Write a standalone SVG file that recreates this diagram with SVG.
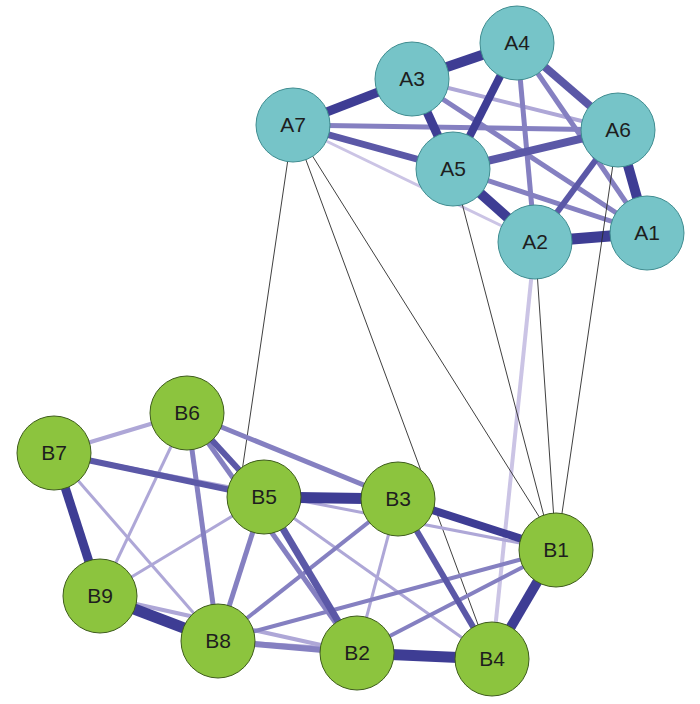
<svg xmlns="http://www.w3.org/2000/svg" width="700" height="704" viewBox="0 0 700 704">
<style>
.e{fill:none;stroke-linecap:butt}
.d{stroke:#3e3d94}
.m{stroke:#5b58a7}
.ml{stroke:#8580c1}
.l{stroke:#aea7d7}
.vl{stroke:#cbc4e5}
.t{stroke:#2a2a2a;stroke-width:0.9;fill:none}
.na circle{fill:#76c4c8;stroke:#3f8c90;stroke-width:1}
.nb circle{fill:#8cc43e;stroke:#3e5c1c;stroke-width:1}
text{font-family:"Liberation Sans",Arial,sans-serif;font-size:21px;fill:#1e1e1e;text-anchor:middle}
</style>
<rect width="700" height="704" fill="#ffffff"/>
<g id="connectors">
<line class="e vl" stroke-width="3" x1="293" y1="125" x2="535" y2="242"/>
<line class="e l" stroke-width="4" x1="412" y1="79" x2="618" y2="130"/>
<line class="e ml" stroke-width="5" x1="293" y1="125" x2="618" y2="130"/>
<line class="e ml" stroke-width="5" x1="412" y1="79" x2="647" y2="233"/>
<line class="e ml" stroke-width="5" x1="517" y1="43" x2="535" y2="242"/>
<line class="e ml" stroke-width="5" x1="517" y1="43" x2="647" y2="233"/>
<line class="e ml" stroke-width="5" x1="453" y1="169" x2="647" y2="233"/>
<line class="e m" stroke-width="6" x1="618" y1="130" x2="535" y2="242"/>
<line class="e m" stroke-width="7" x1="293" y1="125" x2="453" y2="169"/>
<line class="e m" stroke-width="8" x1="517" y1="43" x2="618" y2="130"/>
<line class="e m" stroke-width="8" x1="453" y1="169" x2="618" y2="130"/>
<line class="e d" stroke-width="8" x1="517" y1="43" x2="453" y2="169"/>
<line class="e d" stroke-width="9" x1="293" y1="125" x2="412" y2="79"/>
<line class="e d" stroke-width="10" x1="412" y1="79" x2="517" y2="43"/>
<line class="e d" stroke-width="9" x1="412" y1="79" x2="453" y2="169"/>
<line class="e d" stroke-width="10" x1="453" y1="169" x2="535" y2="242"/>
<line class="e d" stroke-width="10" x1="618" y1="130" x2="647" y2="233"/>
<line class="e d" stroke-width="11" x1="535" y1="242" x2="647" y2="233"/>
<line class="e vl" stroke-width="4" x1="535" y1="242" x2="495" y2="630"/>
<line class="t" x1="293" y1="125" x2="240" y2="485"/>
<line class="t" x1="293" y1="125" x2="480" y2="630"/>
<line class="t" x1="293" y1="125" x2="545" y2="526"/>
<line class="t" x1="453" y1="169" x2="545" y2="520"/>
<line class="t" x1="535" y1="242" x2="554" y2="520"/>
<line class="t" x1="618" y1="130" x2="561" y2="520"/>
<line class="e l" stroke-width="3" x1="54" y1="453" x2="556" y2="550"/>
<line class="e l" stroke-width="3" x1="54" y1="453" x2="218" y2="641"/>
<line class="e l" stroke-width="3" x1="187" y1="413" x2="100" y2="596"/>
<line class="e l" stroke-width="3" x1="264" y1="497" x2="100" y2="596"/>
<line class="e l" stroke-width="3" x1="264" y1="497" x2="492" y2="659"/>
<line class="e l" stroke-width="3" x1="398" y1="499" x2="357" y2="653"/>
<line class="e l" stroke-width="4" x1="54" y1="453" x2="187" y2="413"/>
<line class="e l" stroke-width="4" x1="100" y1="596" x2="357" y2="653"/>
<line class="e l" stroke-width="4" x1="218" y1="641" x2="492" y2="659"/>
<line class="e ml" stroke-width="4" x1="218" y1="641" x2="398" y2="499"/>
<line class="e ml" stroke-width="4" x1="218" y1="641" x2="556" y2="550"/>
<line class="e ml" stroke-width="4" x1="357" y1="653" x2="556" y2="550"/>
<line class="e ml" stroke-width="5" x1="264" y1="497" x2="218" y2="641"/>
<line class="e ml" stroke-width="6" x1="218" y1="641" x2="357" y2="653"/>
<line class="e ml" stroke-width="5" x1="187" y1="413" x2="218" y2="641"/>
<line class="e ml" stroke-width="5" x1="187" y1="413" x2="398" y2="499"/>
<line class="e ml" stroke-width="5" x1="187" y1="413" x2="357" y2="653"/>
<line class="e m" stroke-width="6" x1="187" y1="413" x2="264" y2="497"/>
<line class="e m" stroke-width="6" x1="54" y1="453" x2="264" y2="497"/>
<line class="e m" stroke-width="6" x1="398" y1="499" x2="492" y2="659"/>
<line class="e m" stroke-width="7" x1="264" y1="497" x2="357" y2="653"/>
<line class="e d" stroke-width="8" x1="398" y1="499" x2="556" y2="550"/>
<line class="e d" stroke-width="9" x1="54" y1="453" x2="100" y2="596"/>
<line class="e d" stroke-width="11" x1="264" y1="497" x2="398" y2="499"/>
<line class="e d" stroke-width="11" x1="100" y1="596" x2="218" y2="641"/>
<line class="e d" stroke-width="11" x1="357" y1="653" x2="492" y2="659"/>
<line class="e d" stroke-width="10" x1="492" y1="659" x2="556" y2="550"/>
</g>
<g id="A1" class="na"><circle cx="647" cy="233" r="37"/><text x="647" y="240">A1</text></g>
<g id="A2" class="na"><circle cx="535" cy="242" r="37"/><text x="535" y="249">A2</text></g>
<g id="A3" class="na"><circle cx="412" cy="79" r="37"/><text x="412" y="86">A3</text></g>
<g id="A4" class="na"><circle cx="517" cy="43" r="37"/><text x="517" y="50">A4</text></g>
<g id="A5" class="na"><circle cx="453" cy="169" r="37"/><text x="453" y="176">A5</text></g>
<g id="A6" class="na"><circle cx="618" cy="130" r="37"/><text x="618" y="137">A6</text></g>
<g id="A7" class="na"><circle cx="293" cy="125" r="37"/><text x="293" y="132">A7</text></g>
<g id="B1" class="nb"><circle cx="556" cy="550" r="37"/><text x="556" y="557">B1</text></g>
<g id="B2" class="nb"><circle cx="357" cy="653" r="37"/><text x="357" y="660">B2</text></g>
<g id="B3" class="nb"><circle cx="398" cy="499" r="37"/><text x="398" y="506">B3</text></g>
<g id="B4" class="nb"><circle cx="492" cy="659" r="37"/><text x="492" y="666">B4</text></g>
<g id="B5" class="nb"><circle cx="264" cy="497" r="37"/><text x="264" y="504">B5</text></g>
<g id="B6" class="nb"><circle cx="187" cy="413" r="37"/><text x="187" y="420">B6</text></g>
<g id="B7" class="nb"><circle cx="54" cy="453" r="37"/><text x="54" y="460">B7</text></g>
<g id="B8" class="nb"><circle cx="218" cy="641" r="37"/><text x="218" y="648">B8</text></g>
<g id="B9" class="nb"><circle cx="100" cy="596" r="37"/><text x="100" y="603">B9</text></g>
</svg>
